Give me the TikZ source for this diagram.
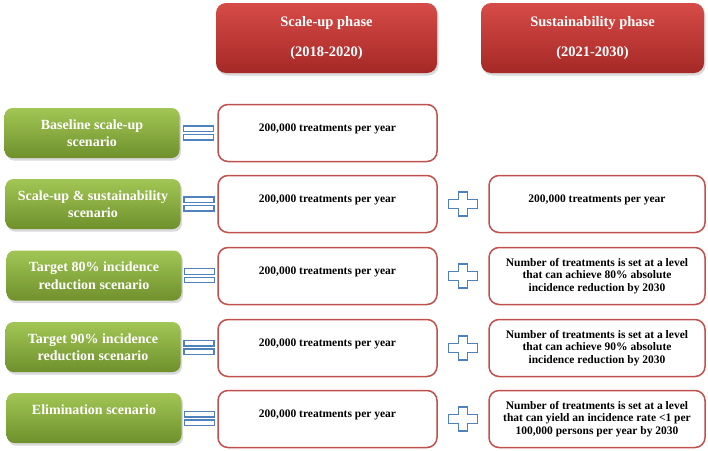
\documentclass[tikz,border=0pt]{standalone}
\usepackage{fontspec}
\setmainfont{Liberation Serif}
\usetikzlibrary{shadows,calc}
\definecolor{phasetop}{HTML}{D64B47}
\definecolor{phasebot}{HTML}{A52826}
\definecolor{scentop}{HTML}{A2C655}
\definecolor{scenbot}{HTML}{6F902C}
\definecolor{boxred}{HTML}{C0504D}
\definecolor{signblue}{HTML}{4F81BD}
\begin{document}
\begin{tikzpicture}[x=1pt,y=-1pt,
	phase/.style={rounded corners=10pt, top color=phasetop, bottom color=phasebot, minimum width=221pt, minimum height=70pt, text=white, align=center, font=\bfseries\fontsize{14.5}{16}\selectfont, drop shadow={shadow xshift=1.5pt, shadow yshift=-2.5pt, opacity=0.3}},
	scen/.style={rounded corners=8pt, top color=scentop, bottom color=scenbot, minimum width=175pt, minimum height=50pt, text=white, align=center, font=\bfseries\fontsize{14}{17.5}\selectfont, drop shadow={shadow xshift=1.5pt, shadow yshift=-2.5pt, opacity=0.3}},
	treat/.style={draw=boxred, line width=1.5pt, rounded corners=10pt, fill=white, minimum width=219pt, minimum height=57pt, align=center, font=\bfseries\fontsize{11.5}{12.5}\selectfont},
	single/.style={text depth=11pt},
	sign/.style={draw=signblue, line width=1.4pt, fill=white},
	eqsign/.pic={
		\draw[sign] (-15,-7) rectangle (15,-1.5);
		\draw[sign] (-15,1.5) rectangle (15,7);
	},
	plussign/.pic={
		\draw[sign] (-4.5,-12) -- (4.5,-12) -- (4.5,-4.5) -- (14.5,-4.5) -- (14.5,4.5) -- (4.5,4.5) -- (4.5,12) -- (-4.5,12) -- (-4.5,4.5) -- (-14.5,4.5) -- (-14.5,-4.5) -- (-4.5,-4.5) -- cycle;
	}]
	\useasboundingbox (0,0) rectangle (708,450);
	
	% phases
	\node[phase] (scaleup) at (326.5,38) {Scale-up phase\\[14pt](2018-2020)};
	\node[phase, minimum width=223pt] (sustain) at (592.5,38) {Sustainability phase\\[14pt](2021-2030)};
	
	% scenarios
	\node[scen] (base) at (92,133) {Baseline scale-up\\scenario};
	\node[scen] (sus) at (93,204) {Scale-up \& sustainability\\scenario};
	\node[scen] (t80) at (94,275.5) {Target 80\% incidence\\reduction scenario};
	\node[scen] (t90) at (93,347) {Target 90\% incidence\\reduction scenario};
	\node[scen] (elim) at (94,418) {Elimination scenario\\\mbox{}};
	
	% scale-up phase
	\node[treat, single] (base-a) at (327.5,133) {200,000 treatments per year};
	\node[treat, single] (sus-a) at (327.5,204) {200,000 treatments per year};
	\node[treat, single] (t80-a) at (327.5,276) {200,000 treatments per year};
	\node[treat, single] (t90-a) at (327.5,348) {200,000 treatments per year};
	\node[treat, single] (elim-a) at (327.5,419) {200,000 treatments per year};
	
	% sustainability phase
	\node[treat, single, minimum width=216pt] (sus-b) at (597,204) {200,000 treatments per year};
	\node[treat, minimum width=216pt] (t80-b) at (597,276) {Number of treatments is set at a level\\that can achieve 80\% absolute\\incidence reduction by 2030};
	\node[treat, minimum width=216pt] (t90-b) at (597,348) {Number of treatments is set at a level\\that can achieve 90\% absolute\\incidence reduction by 2030};
	\node[treat, minimum width=216pt] (elim-b) at (597,419) {Number of treatments is set at a level\\that can yield an incidence rate <1 per\\100,000 persons per year by 2030};
	
	% signs
	\pic at ($(base.east)!0.5!(base-a.west)$) {eqsign};
	\pic at ($(sus.east)!0.5!(sus-a.west)$) {eqsign};
	\pic at ($(t80.east)!0.5!(t80-a.west)$) {eqsign};
	\pic at ($(t90.east)!0.5!(t90-a.west)$) {eqsign};
	\pic at ($(elim.east)!0.5!(elim-a.west)$) {eqsign};
	\pic at ($(sus-a.east)!0.5!(sus-b.west)$) {plussign};
	\pic at ($(t80-a.east)!0.5!(t80-b.west)$) {plussign};
	\pic at ($(t90-a.east)!0.5!(t90-b.west)$) {plussign};
	\pic at ($(elim-a.east)!0.5!(elim-b.west)$) {plussign};
\end{tikzpicture}
\end{document}
